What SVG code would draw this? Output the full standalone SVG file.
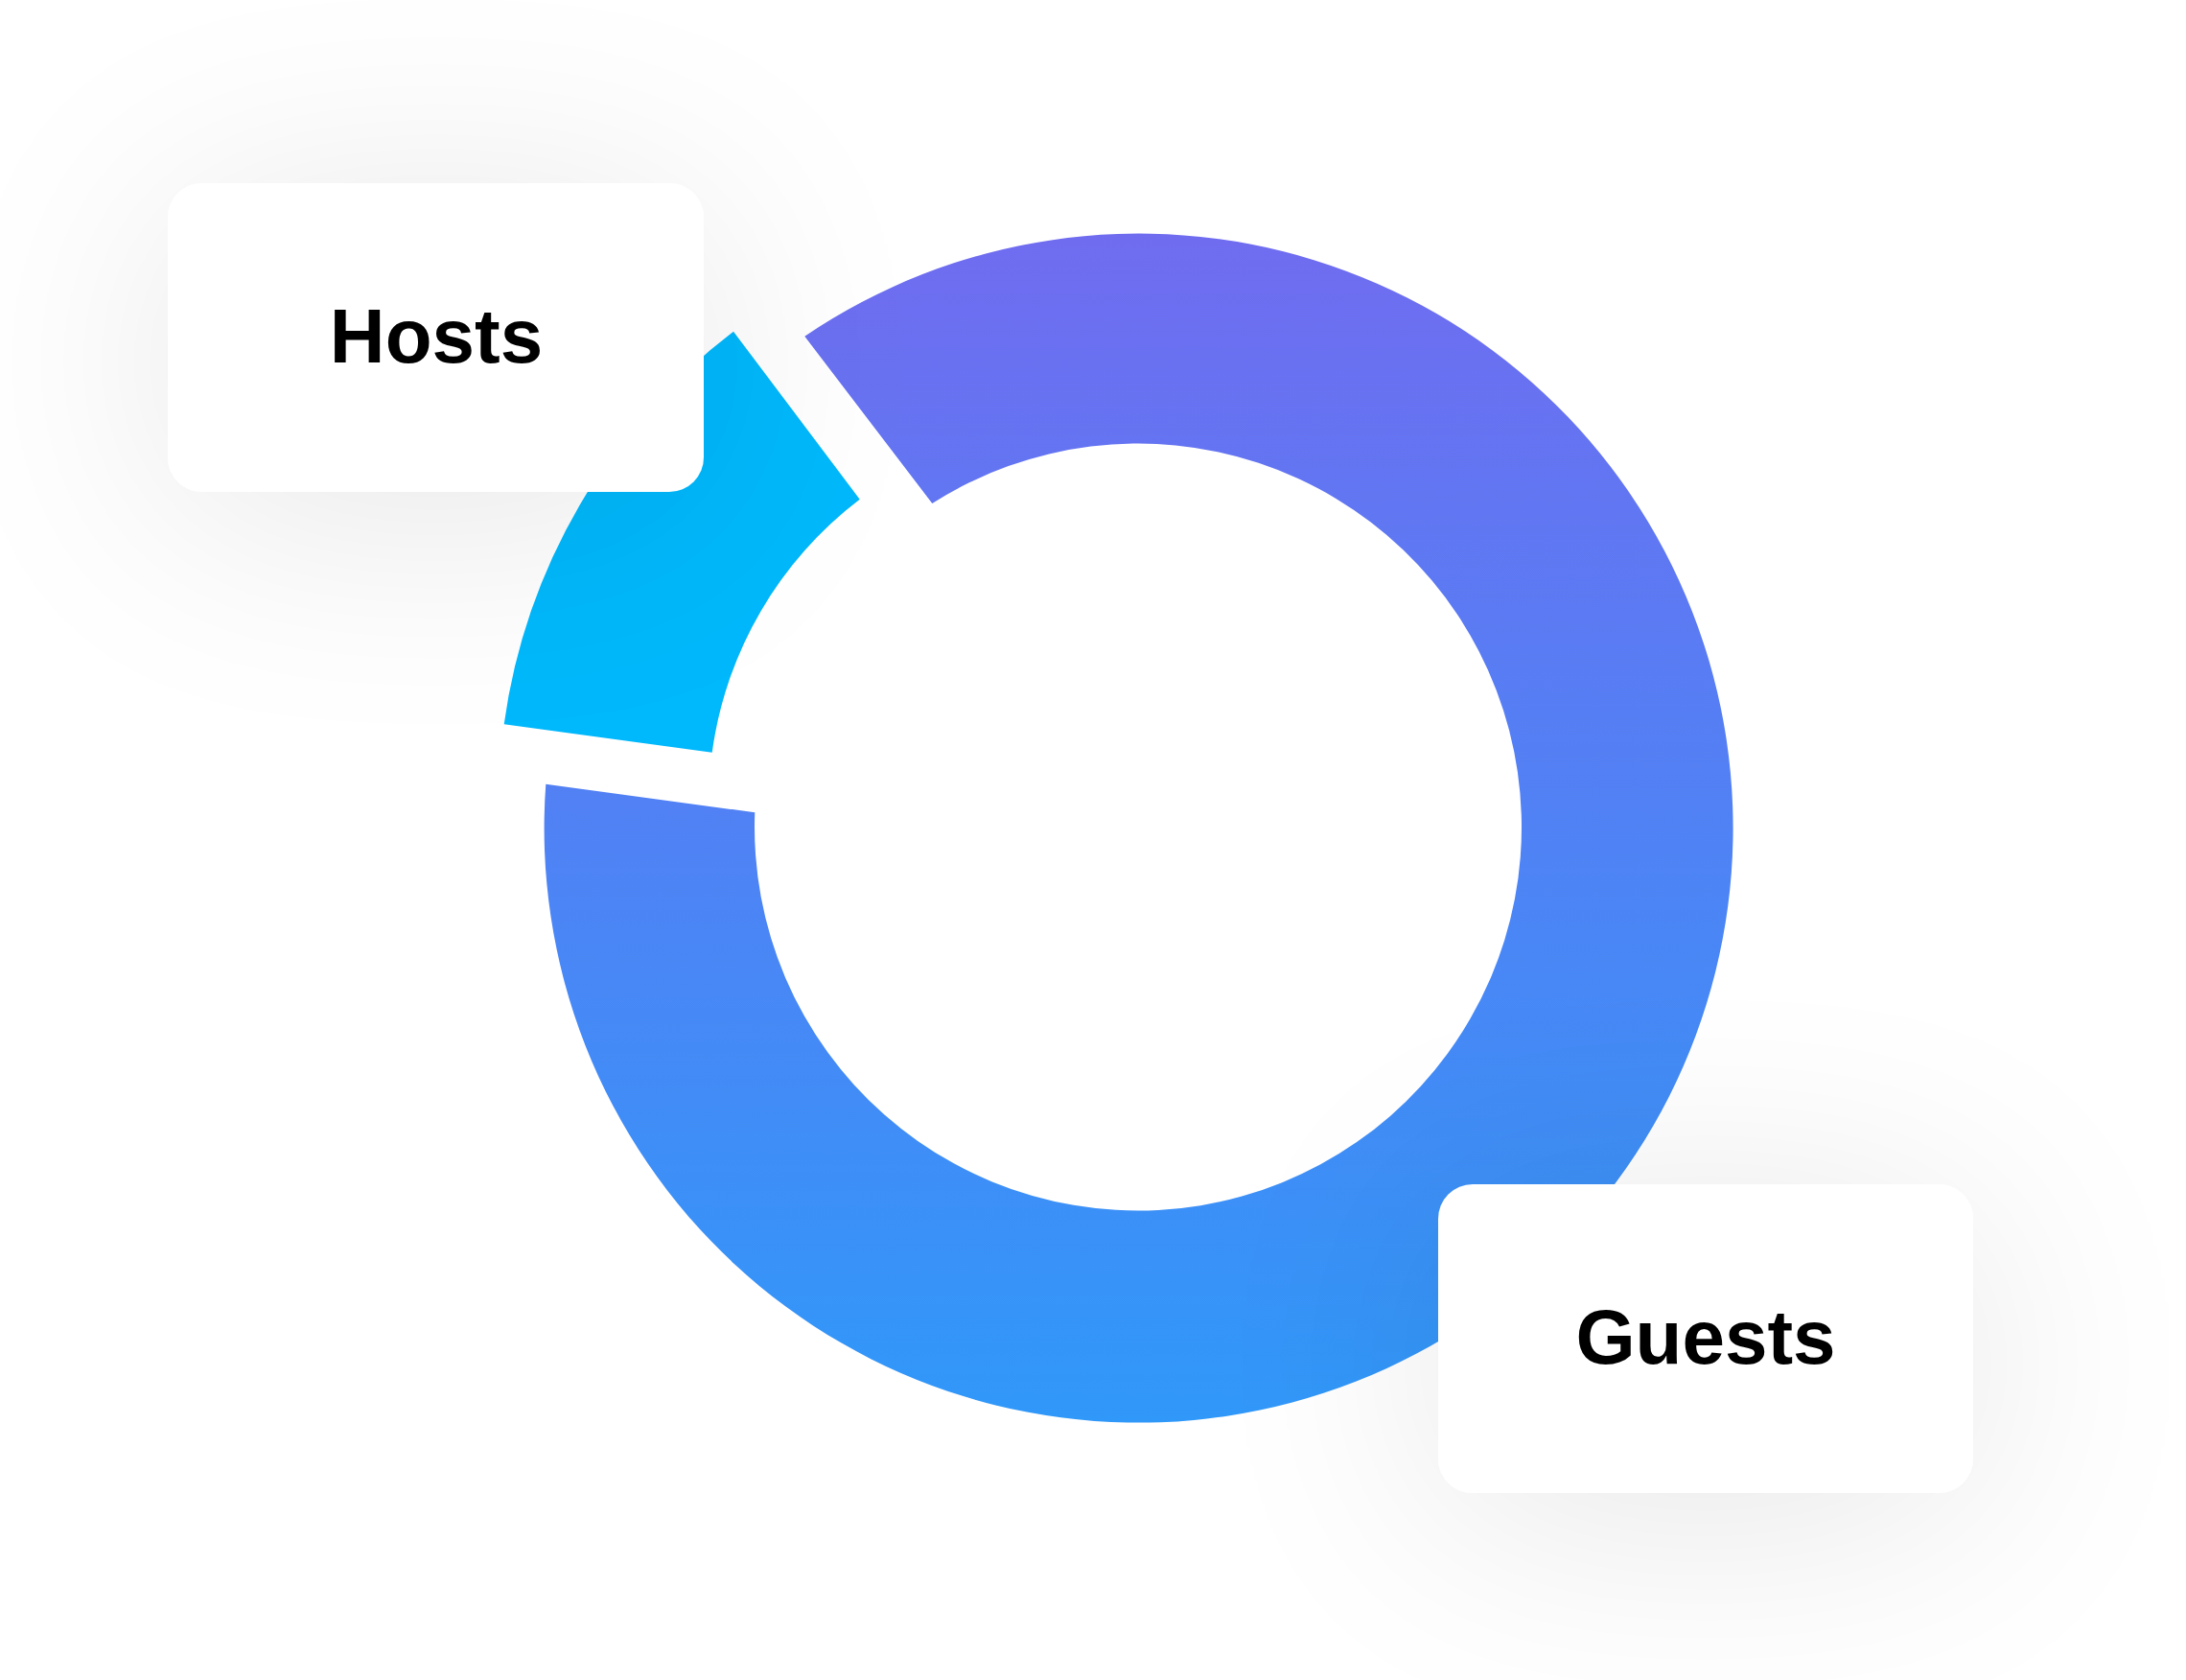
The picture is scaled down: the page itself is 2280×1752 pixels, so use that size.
<svg xmlns="http://www.w3.org/2000/svg" width="2280" height="1752" viewBox="0 0 2280 1752">
  <defs>
    <linearGradient id="ringGrad" gradientUnits="userSpaceOnUse" x1="0" y1="242" x2="0" y2="1483">
      <stop offset="0" stop-color="#706cf0"/>
      <stop offset="1" stop-color="#3098f9"/>
    </linearGradient>
    <filter id="glow" x="-80%" y="-150%" width="260%" height="400%">
      <feGaussianBlur in="SourceAlpha" stdDeviation="130"/>
      <feOffset dy="25" result="b"/>
      <feComponentTransfer in="b" result="s">
        <feFuncA type="linear" slope="0.1"/>
      </feComponentTransfer>
      <feMerge>
        <feMergeNode in="s"/>
        <feMergeNode in="SourceGraphic"/>
      </feMerge>
    </filter>
  </defs>
  <style>
    .box { fill: #ffffff; }
    .label { font-family: "Liberation Sans", Arial, sans-serif; font-weight: bold; font-size: 80px; fill: #000000; text-anchor: middle; }
  </style>
  <rect x="0" y="0" width="2280" height="1752" fill="#ffffff"/>
  <g id="ring">
    <path id="seg-guests" fill="url(#ringGrad)" d="M 839.3 350.7 A 620 620 0 1 1 569.3 817.7 L 787.3 847.3 A 400 400 0 1 0 972.3 525 Z"/>
    <path id="seg-hosts" fill="#00b8fc" d="M 765 345.7 A 620 620 0 0 0 525.7 755.3 L 742.7 784.7 A 400 400 0 0 1 896.7 520.7 Z"/>
  </g>
  <g id="connectors"></g>
  <g id="node-hosts">
    <rect class="box" x="175" y="191" width="559" height="322" rx="36" ry="36" filter="url(#glow)"/>
    <text class="label" x="455" y="378">Hosts</text>
  </g>
  <g id="node-guests">
    <rect class="box" x="1500" y="1235" width="558" height="322" rx="36" ry="36" filter="url(#glow)"/>
    <text class="label" x="1779" y="1422">Guests</text>
  </g>
</svg>
